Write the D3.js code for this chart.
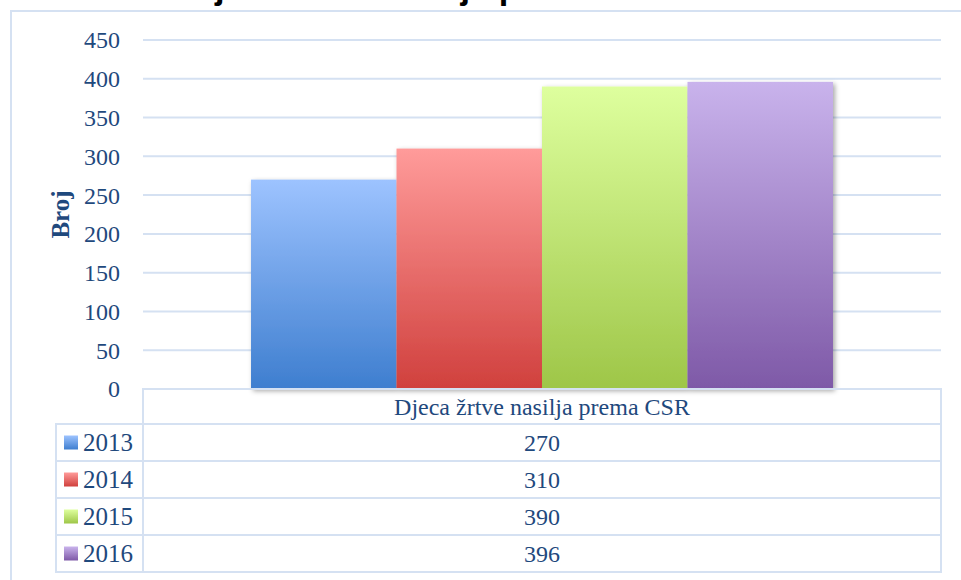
<!DOCTYPE html>
<html>
<head>
<meta charset="UTF-8">
<title>Djeca žrtve nasilja prema CSR</title>
<script src="https://d3js.org/d3.v7.min.js"></script>
<style>
  body { margin: 0; background: #fff; }
  svg { display: block; }
  text { font-family: "Liberation Serif", serif; fill: #1f497d; }
</style>
</head>
<body>
<svg width="961" height="580"></svg>
<script>
const category = "Djeca žrtve nasilja prema CSR";
const years = ["2013", "2014", "2015", "2016"];
const values = [270, 310, 390, 396];
const yTicks = [0, 50, 100, 150, 200, 250, 300, 350, 400, 450];
const gradTop = ["#9dc3ff", "#ff9b9a", "#deff9e", "#c9b3ec"];
const gradBottom = ["#3e7ecf", "#d0403d", "#9ec648", "#7e59a7"];

const svg = d3.select("svg");
const plotL = 143, plotR = 941, plotT = 40, plotB = 389;
const gridColor = "#d5e1f2";

// outer chart frame (only top and left edges are in view)
svg.append("path")
  .attr("d", "M11,580 V11 H961")
  .attr("fill", "none").attr("stroke", gridColor).attr("stroke-width", 2);

// title, mostly cut off at the top of the picture
svg.append("text")
  .attr("x", 190).attr("y", -1)
  .style("font-family", "'Liberation Sans', sans-serif")
  .style("font-weight", "bold").style("font-size", "34.5px").style("fill", "#000")
  .text("Djeca žrtve nasilja prema CSR");

const defs = svg.append("defs");
years.forEach((yr, i) => {
  const g = defs.append("linearGradient").attr("id", "g" + yr)
    .attr("x1", 0).attr("y1", 0).attr("x2", 0).attr("y2", 1);
  g.append("stop").attr("offset", "0%").attr("stop-color", gradTop[i]);
  g.append("stop").attr("offset", "100%").attr("stop-color", gradBottom[i]);
});
const f = defs.append("filter").attr("id", "shadow")
  .attr("x", "-10%").attr("y", "-10%").attr("width", "130%").attr("height", "130%");
f.append("feDropShadow").attr("dx", 2).attr("dy", 2).attr("stdDeviation", 2.5)
  .attr("flood-color", "#000").attr("flood-opacity", 0.35);

const y = d3.scaleLinear().domain([0, 450]).range([plotB, plotT]);
const x0 = d3.scaleBand().domain([category]).range([plotL, plotR]).paddingOuter(0.1856);
const x1 = d3.scaleBand().domain(years).range([0, x0.bandwidth()]);

// gridlines
svg.append("g").selectAll("line")
  .data(yTicks.filter(d => d > 0))
  .join("line")
  .attr("x1", plotL).attr("x2", plotR)
  .attr("y1", d => y(d)).attr("y2", d => y(d))
  .attr("stroke", gridColor).attr("stroke-width", 2);

// y axis labels
svg.append("g").selectAll("text")
  .data(yTicks)
  .join("text")
  .attr("x", 120).attr("y", d => y(d))
  .attr("text-anchor", "end").attr("dy", "0.35em")
  .style("font-size", "24px")
  .text(d => d);

svg.append("text")
  .attr("transform", `translate(69,${(plotT + plotB) / 2}) rotate(-90)`)
  .attr("text-anchor", "middle")
  .style("font-size", "25px").style("font-weight", "bold")
  .text("Broj");

// bars
svg.append("g").attr("filter", "url(#shadow)")
  .selectAll("rect")
  .data(years.map((yr, i) => ({ yr, v: values[i] })))
  .join("rect")
  .attr("x", d => x0(category) + x1(d.yr))
  .attr("width", x1.bandwidth())
  .attr("y", d => y(d.v))
  .attr("height", d => y(0) - y(d.v))
  .attr("fill", d => `url(#g${d.yr})`);

// data table
const rowH = 37, headH = 35, legLeft = 56;
const table = svg.append("g").attr("fill", "none").attr("stroke", gridColor).attr("stroke-width", 2);
table.append("rect").attr("x", plotL).attr("y", plotB).attr("width", plotR - plotL).attr("height", headH);
years.forEach((yr, i) => {
  table.append("rect").attr("x", legLeft).attr("y", plotB + headH + i * rowH)
    .attr("width", plotL - legLeft).attr("height", rowH);
  table.append("rect").attr("x", plotL).attr("y", plotB + headH + i * rowH)
    .attr("width", plotR - plotL).attr("height", rowH);
});

svg.append("text")
  .attr("x", (plotL + plotR) / 2).attr("y", plotB + headH / 2)
  .attr("text-anchor", "middle").attr("dy", "0.35em")
  .style("font-size", "24px")
  .text(category);

const rows = svg.append("g").selectAll("g")
  .data(years.map((yr, i) => ({ yr, v: values[i], i })))
  .join("g")
  .attr("transform", d => `translate(0,${plotB + headH + d.i * rowH})`);
rows.append("rect")
  .attr("x", 64).attr("y", rowH / 2 - 7).attr("width", 14).attr("height", 14)
  .attr("fill", d => `url(#g${d.yr})`);
rows.append("text")
  .attr("x", 83).attr("y", rowH / 2).attr("dy", "0.35em")
  .style("font-size", "25px")
  .text(d => d.yr);
rows.append("text")
  .attr("x", (plotL + plotR) / 2).attr("y", rowH / 2).attr("dy", "0.35em")
  .attr("text-anchor", "middle")
  .style("font-size", "24px")
  .text(d => d.v);
</script>
</body>
</html>
